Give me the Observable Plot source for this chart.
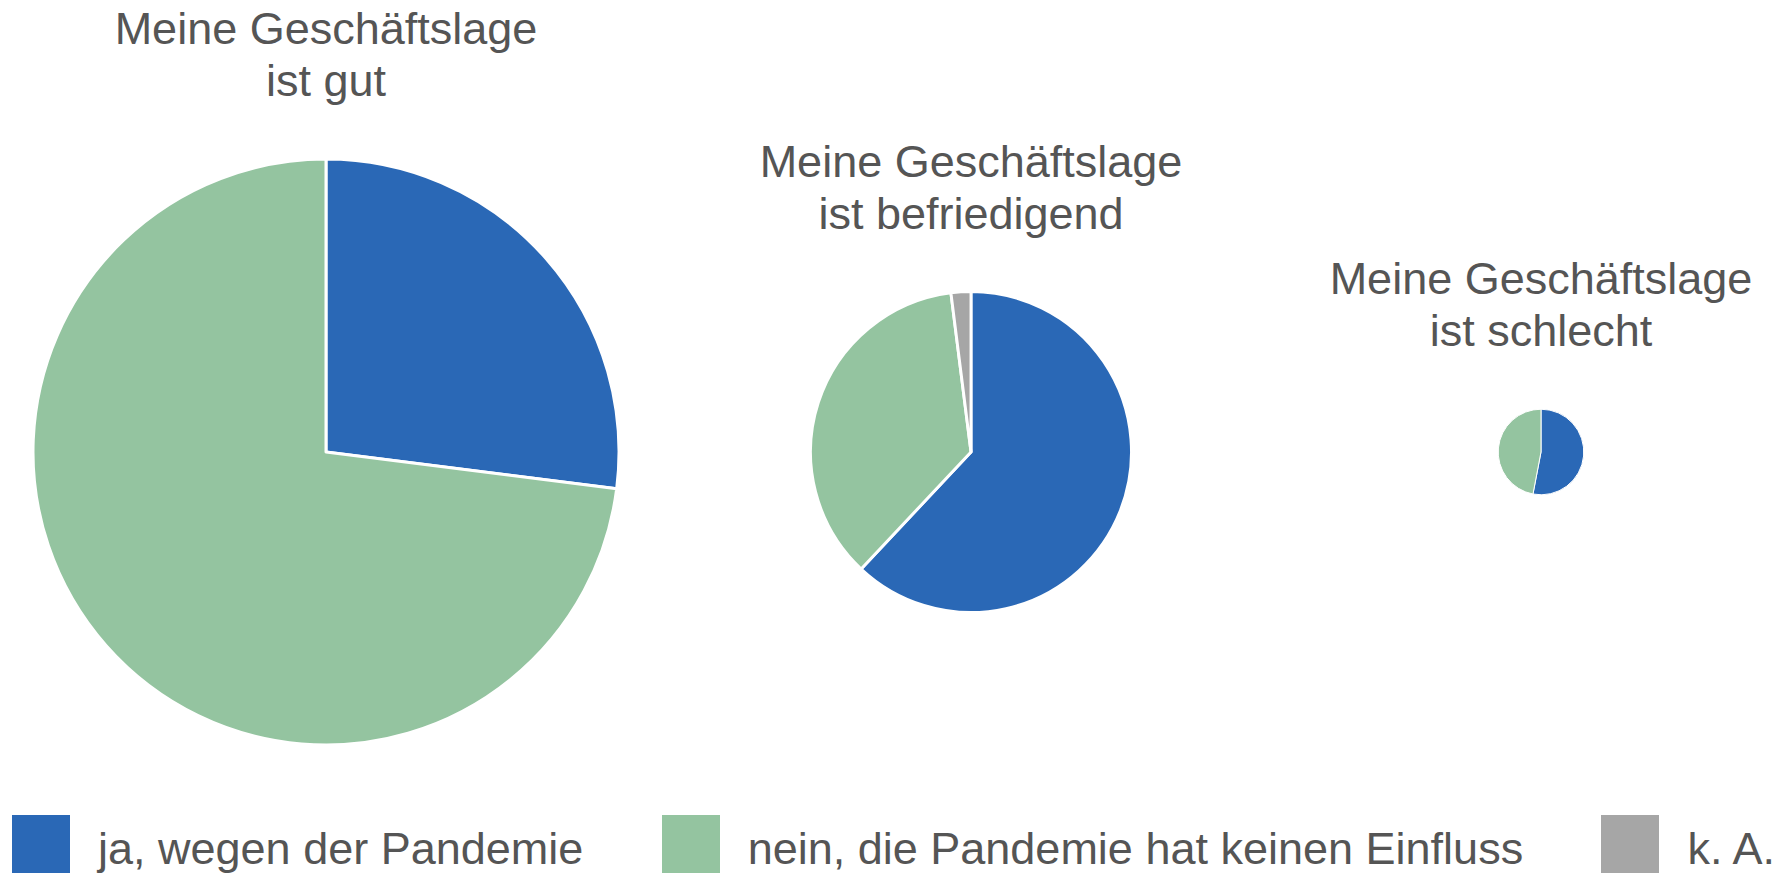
<!DOCTYPE html>
<html>
<head>
<meta charset="utf-8">
<script src="https://cdn.jsdelivr.net/npm/d3@7"></script>
<script src="https://cdn.jsdelivr.net/npm/@observablehq/plot@0.6"></script>
<style>
  html, body { margin: 0; padding: 0; background: #ffffff; }
  body { width: 1791px; height: 877px; overflow: hidden; font-family: "Liberation Sans", Arial, Helvetica, sans-serif; color: #555555; }
  #legend { display: flex; justify-content: space-between; height: 77px; box-sizing: border-box; padding: 15px 16px 0 12px; }
  .item { display: flex; align-items: flex-start; }
  .swatch { width: 58px; height: 58px; margin-right: 28px; flex: none; }
  .label { font-size: 45px; line-height: 58px; position: relative; top: 5px; white-space: nowrap; color: #555555; }
</style>
</head>
<body>
<div id="chart"></div>
<div id="legend"></div>
<script>
// ---- data ----
const groups = [
  "Meine Geschäftslage\nist gut",
  "Meine Geschäftslage\nist befriedigend",
  "Meine Geschäftslage\nist schlecht"
];
const groupTotals = [75, 22.5, 1.6];           // relative size of each group (pie area)
const answers = ["ja, wegen der Pandemie", "nein, die Pandemie hat keinen Einfluss", "k. A."];
const shareJa   = [27, 62, 53];
const shareNein = [73, 36, 47];
const shareKA   = [0, 2, 0];
const answerColors = ["#2a68b6", "#94c4a0", "#a6a6a6"];

// ---- derived tables ----
const shares = [shareJa, shareNein, shareKA];
const pieRows = groups.map((g, i) => ({
  group: g, index: i, total: groupTotals[i],
  slices: answers.map((a, j) => ({answer: a, value: shares[j][i]}))
}));
const sliceRows = pieRows.flatMap(p => p.slices.map(s => ({index: p.index, total: p.total, answer: s.answer, value: s.value})));

// ---- layout ----
const W = 1791, H = 800;
const titleGap = 63, titleLineHeight = 52, titleSize = 45;

function pieMark(index, scales, values, dimensions) {
  const cy = (dimensions.marginTop + dimensions.height - dimensions.marginBottom) / 2;
  const root = d3.create("svg:g");
  for (const p of pieRows) {
    const cx = scales.x(p.index);
    const r = scales.r(p.total);
    const arcs = d3.pie().sort(null).value(d => d.value)(p.slices.filter(s => s.value > 0));
    const arc = d3.arc().innerRadius(0).outerRadius(r);
    const g = root.append("g").attr("transform", `translate(${cx},${cy})`);
    g.selectAll("path").data(arcs).join("path")
      .attr("d", arc)
      .attr("fill", d => scales.color(d.data.answer))
      .attr("stroke", "#ffffff")
      .attr("stroke-width", Math.max(1, Math.min(3, r / 55)))
      .attr("stroke-linejoin", "round");
    const lines = p.group.split("\n");
    const yLast = cy - r - titleGap;
    const t = root.append("text")
      .attr("text-anchor", "middle")
      .attr("font-size", titleSize)
      .attr("fill", "#555555");
    lines.forEach((ln, k) => t.append("tspan")
      .attr("x", cx)
      .attr("y", yLast - (lines.length - 1 - k) * titleLineHeight)
      .text(ln));
  }
  return root.node();
}

const chart = Plot.plot({
  width: W,
  height: H,
  marginTop: 104,
  marginBottom: 0,
  marginLeft: 0,
  marginRight: 0,
  style: {fontFamily: "'Liberation Sans', Arial, Helvetica, sans-serif", background: "#ffffff"},
  x: {type: "linear", domain: [0, 1, 2], range: [326, 971, 1541], axis: null},
  r: {type: "sqrt", domain: [0, 75], range: [0, 293]},
  color: {type: "ordinal", domain: answers, range: answerColors},
  marks: [
    Plot.dot(sliceRows, {x: "index", r: "total", fill: "answer", fillOpacity: 0, stroke: null, frameAnchor: "middle"}),
    pieMark
  ]
});
document.getElementById("chart").appendChild(chart);

// ---- legend (HTML, below the SVG) ----
const legend = d3.select("#legend");
answers.forEach((a, j) => {
  const item = legend.append("div").attr("class", "item");
  item.append("div").attr("class", "swatch").style("background", answerColors[j]);
  item.append("span").attr("class", "label").text(a);
});
</script>
</body>
</html>
